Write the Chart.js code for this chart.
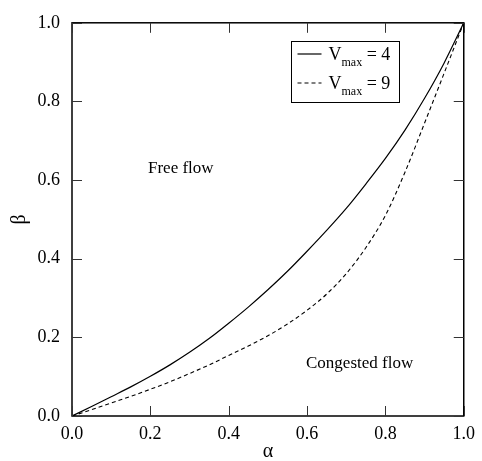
<!DOCTYPE html>
<html>
<head>
<meta charset="utf-8">
<script src="https://cdn.jsdelivr.net/npm/chart.js@4/dist/chart.umd.min.js"></script>
<style>
  html, body { margin: 0; padding: 0; background: #fff; }
  #wrap { width: 482px; height: 461px; }
</style>
</head>
<body>
<div id="wrap"><canvas id="chart" width="482" height="461"></canvas></div>
<script>
// values
const alpha = [0, 0.05, 0.1, 0.15, 0.2, 0.25, 0.3, 0.35, 0.4, 0.45, 0.5, 0.55, 0.6, 0.65, 0.7, 0.75, 0.8, 0.85, 0.9, 0.95, 1.0];
const betaV4 = [0, 0.024, 0.049, 0.074, 0.101, 0.130, 0.162, 0.197, 0.236, 0.277, 0.321, 0.368, 0.419, 0.472, 0.528, 0.590, 0.655, 0.727, 0.808, 0.898, 1.0];
const betaV9 = [0, 0.016, 0.033, 0.050, 0.068, 0.087, 0.108, 0.130, 0.154, 0.178, 0.204, 0.234, 0.269, 0.310, 0.362, 0.428, 0.510, 0.620, 0.745, 0.872, 1.0];
const tickValues = [0, 0.2, 0.4, 0.6, 0.8, 1.0];
const seriesNames = ['4', '9'];

const FONT = "'Liberation Serif', 'Times New Roman', Times, serif";

function pts(ys) {
  return alpha.map((a, i) => ({ x: a, y: ys[i] }));
}

// frame, inward ticks, legend and region labels
const decor = {
  id: 'decor',
  afterDraw(chart) {
    const { ctx, chartArea: ca, scales } = chart;
    const xs = scales.x, ys = scales.y;
    ctx.save();
    ctx.strokeStyle = '#000';
    ctx.lineWidth = 1.5;
    ctx.strokeRect(ca.left, ca.top, ca.right - ca.left, ca.bottom - ca.top);

    ctx.lineWidth = 1;
    ctx.strokeStyle = '#333';
    const tl = 10;
    ctx.beginPath();
    tickValues.forEach(v => {
      const px = Math.round(xs.getPixelForValue(v)) + 0.5;
      ctx.moveTo(px, ca.bottom); ctx.lineTo(px, ca.bottom - tl);
      ctx.moveTo(px, ca.top); ctx.lineTo(px, ca.top + tl);
      const py = Math.round(ys.getPixelForValue(v)) + 0.5;
      ctx.moveTo(ca.left, py); ctx.lineTo(ca.left + tl, py);
      ctx.moveTo(ca.right, py); ctx.lineTo(ca.right - tl, py);
    });
    ctx.stroke();

    // legend box
    const bx = 291.5, by = 41.5, bw = 108, bh = 61;
    ctx.strokeStyle = '#000';
    ctx.lineWidth = 1;
    ctx.strokeRect(bx, by, bw, bh);
    chart.data.datasets.forEach((ds, i) => {
      const ly = by + 12 + i * 29;
      ctx.beginPath();
      ctx.setLineDash(ds.borderDash || []);
      ctx.lineWidth = ds.borderWidth;
      ctx.moveTo(bx + 6, ly + 0.5);
      ctx.lineTo(bx + 30, ly + 0.5);
      ctx.stroke();
      ctx.setLineDash([]);
      ctx.fillStyle = '#000';
      ctx.textBaseline = 'alphabetic';
      ctx.textAlign = 'left';
      let tx = bx + 37;
      ctx.font = '18px ' + FONT;
      ctx.fillText('V', tx, ly + 6);
      tx += ctx.measureText('V').width;
      ctx.font = '12px ' + FONT;
      ctx.fillText('max', tx, ly + 12);
      tx += ctx.measureText('max').width;
      ctx.font = '18px ' + FONT;
      ctx.fillText(' = ' + seriesNames[i], tx, ly + 6);
    });

    ctx.font = '17px ' + FONT;
    ctx.fillStyle = '#000';
    ctx.textAlign = 'left';
    ctx.fillText('Free flow', 148, 173);
    ctx.fillText('Congested flow', 306, 368);
    ctx.restore();
  }
};

new Chart(document.getElementById('chart'), {
  type: 'line',
  data: {
    datasets: [
      { label: 'Vmax = 4', data: pts(betaV4), borderColor: '#000', borderWidth: 1.2, pointRadius: 0, cubicInterpolationMode: 'monotone', fill: false },
      { label: 'Vmax = 9', data: pts(betaV9), borderColor: '#000', borderWidth: 1.1, borderDash: [4, 3], pointRadius: 0, cubicInterpolationMode: 'monotone', fill: false }
    ]
  },
  options: {
    responsive: false,
    animation: false,
    layout: { padding: { top: 13, right: 10, left: 0, bottom: 0 } },
    plugins: { legend: { display: false }, tooltip: { enabled: false } },
    scales: {
      x: {
        type: 'linear', min: 0, max: 1,
        grid: { display: false, drawTicks: false },
        border: { display: false },
        afterBuildTicks: s => { s.ticks = tickValues.map(v => ({ value: v })); },
        ticks: { color: '#000', padding: 7, maxRotation: 0, font: { family: FONT, size: 18 }, callback: v => v.toFixed(1) },
        title: { display: true, text: 'α', color: '#000', padding: { top: 0, bottom: 0 }, font: { family: FONT, size: 20, lineHeight: 0.9 } },
        afterFit: s => { s.height = 45; }
      },
      y: {
        type: 'linear', min: 0, max: 1,
        grid: { display: false, drawTicks: false },
        border: { display: false },
        afterBuildTicks: s => { s.ticks = tickValues.map(v => ({ value: v })); },
        ticks: { color: '#000', padding: 12, font: { family: FONT, size: 18 }, callback: v => v.toFixed(1) },
        title: { display: true, text: 'β', color: '#000', padding: { top: 8, bottom: 0 }, font: { family: FONT, size: 20 } },
        afterFit: s => { s.width = 72; }
      }
    }
  },
  plugins: [decor]
});
</script>
</body>
</html>
